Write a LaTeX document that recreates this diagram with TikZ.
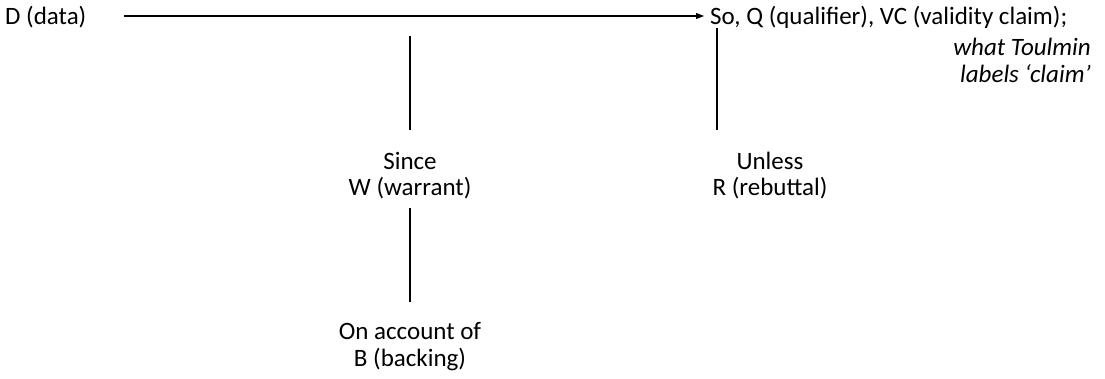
\documentclass[tikz,border=0pt]{standalone}
\usepackage{fontspec}
\setmainfont{Carlito}
\usetikzlibrary{arrows.meta}
\tikzset{
  lbl/.style={inner sep=0pt, font=\fontsize{25}{26.5}\selectfont, align=center},
  conn/.style={line width=1.3pt, draw=black},
}
\begin{document}
\begin{tikzpicture}[x=1pt,y=-1pt]
\useasboundingbox (0,0) rectangle (1105,379);
% nodes
\node[lbl, anchor=base west] (data) at (5,25) {D (data)};
\node[lbl, anchor=base west] (claim) at (710,25) {So, Q (qualifier), VC (validity claim);};
\node[lbl, anchor=base east, align=right, font=\fontsize{25}{27}\selectfont\itshape] (note) at (1091,83) {what Toulmin\\labels ‘claim’};
\node[lbl, anchor=base] (warrant) at (410,170) {Since};
\node[lbl, anchor=base] (warrant2) at (410,196) {W (warrant)};
\node[lbl, anchor=base] (rebut) at (770,170) {Unless};
\node[lbl, anchor=base] (rebut2) at (770,196) {R (rebuttal)};
\node[lbl, anchor=base] (backing) at (410,339) {On account of};
\node[lbl, anchor=base] (backing2) at (410,366) {B (backing)};
% free ends
\coordinate (a0) at (124,16);
\coordinate (a1) at (704,16);
\coordinate (w0) at (410,36);
\coordinate (w1) at (410,130);
\coordinate (r0) at (717,28);
\coordinate (r1) at (717,130);
\coordinate (b0) at (410,208);
\coordinate (b1) at (410,302);
% connectors
\draw[conn, -{Triangle[length=8pt,width=6pt]}] (a0) -- (a1);
\draw[conn] (w0) -- (w1);
\draw[conn] (r0) -- (r1);
\draw[conn] (b0) -- (b1);
\end{tikzpicture}
\end{document}
